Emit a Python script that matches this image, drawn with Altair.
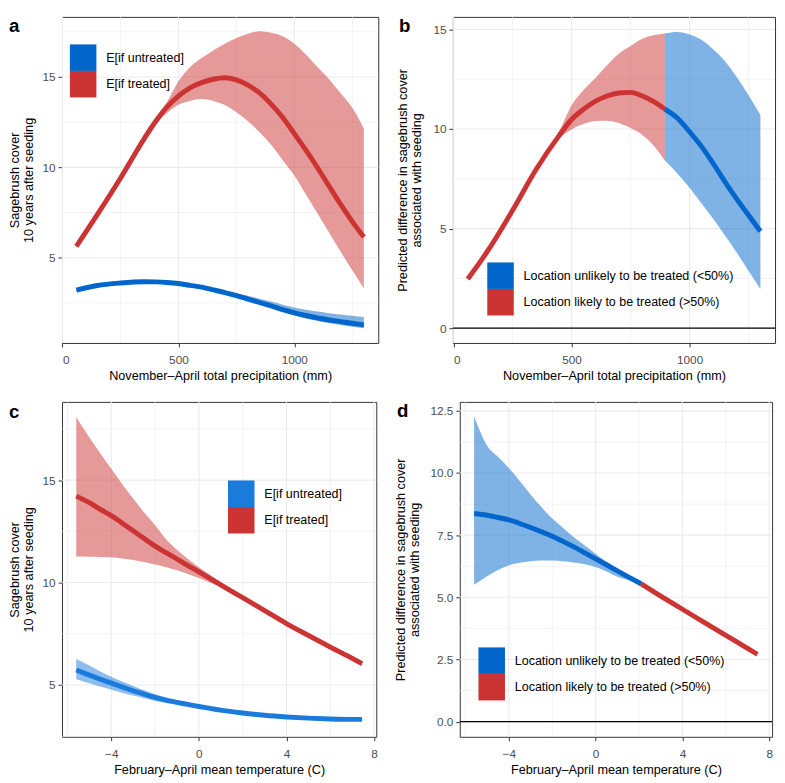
import altair as alt
import pandas as pd

FONT = "Liberation Sans"
RED = "#CC3333"
BLUE = "#0066CC"
BLUE_C = "#1B7BDD"
GRID = "#EBEBEB"

LAB_AC = ["E[if untreated]", "E[if treated]"]
LAB_BD = ["Location unlikely to be treated (<50%)", "Location likely to be treated (>50%)"]

# ---------------- panel a : precipitation, expected cover ----------------
A_X = [60, 150, 250, 350, 400, 450, 500, 550, 600, 650, 700, 750, 800, 850, 900,
       950, 1000, 1050, 1100, 1150, 1200, 1250, 1300]
A_TREAT = [5.63, 7.38, 9.40, 11.54, 12.51, 13.33, 13.94, 14.40, 14.69, 14.88, 14.96, 14.84,
           14.55, 14.12, 13.50, 12.76, 11.87, 10.95, 9.98, 8.96, 7.95, 7.00, 6.14]
A_TREAT_LO = [5.53, 7.28, 9.30, 11.44, 12.35, 13.00, 13.47, 13.68, 13.78, 13.68, 13.45, 13.05,
              12.55, 11.95, 11.25, 10.40, 9.55, 8.50, 7.45, 6.40, 5.33, 4.30, 3.30]
A_TREAT_HI = [5.75, 7.48, 9.50, 11.65, 12.65, 13.60, 14.76, 15.54, 16.05, 16.47, 16.84, 17.16,
              17.40, 17.54, 17.45, 17.26, 16.85, 16.25, 15.55, 14.88, 14.10, 13.30, 12.15]
A_UNTR = [3.20, 3.46, 3.60, 3.67, 3.66, 3.63, 3.57, 3.47, 3.37, 3.22, 3.07, 2.90, 2.71, 2.52,
          2.33, 2.13, 1.95, 1.80, 1.67, 1.55, 1.46, 1.37, 1.28]
A_UNTR_LO = [3.14, 3.40, 3.54, 3.61, 3.60, 3.57, 3.51, 3.41, 3.30, 3.15, 2.99, 2.81, 2.61, 2.41,
             2.21, 2.00, 1.80, 1.64, 1.50, 1.38, 1.28, 1.18, 1.10]
A_UNTR_HI = [3.26, 3.52, 3.66, 3.73, 3.72, 3.69, 3.63, 3.54, 3.45, 3.32, 3.19, 3.05, 2.89, 2.73,
             2.57, 2.40, 2.24, 2.12, 2.02, 1.93, 1.86, 1.79, 1.72]

# ---------------- panel b : precipitation, difference ----------------
B_X = [60, 150, 250, 350, 450, 500, 550, 600, 650, 700, 750, 800, 850, 895, 950, 1000,
       1050, 1100, 1150, 1200, 1250, 1300]
B_Y = [2.47, 3.98, 5.92, 7.98, 9.72, 10.48, 10.99, 11.39, 11.66, 11.81, 11.84, 11.66, 11.36,
       11.00, 10.53, 9.86, 9.13, 8.27, 7.35, 6.48, 5.67, 4.87]
B_LO = [2.39, 3.90, 5.82, 7.86, 9.55, 9.98, 10.25, 10.40, 10.42, 10.30, 10.05, 9.70, 9.13,
        8.42, 7.74, 7.05, 6.27, 5.49, 4.65, 3.79, 2.87, 1.97]
B_HI = [2.55, 4.08, 6.02, 8.10, 9.95, 11.20, 11.95, 12.55, 13.20, 13.78, 14.17, 14.53, 14.72,
        14.80, 14.87, 14.75, 14.48, 14.00, 13.40, 12.60, 11.70, 10.70]
B_SPLIT = 895

# ---------------- panel c : temperature, expected cover ----------------
C_X = [-5.6, -5, -4.5, -4, -3.5, -3, -2.5, -2, -1.5, -1, -0.5, 0, 0.5, 1, 1.5, 2, 3, 4, 5, 6, 7, 7.45]
C_TREAT = [14.22, 13.90, 13.57, 13.27, 12.90, 12.53, 12.15, 11.78, 11.46, 11.15, 10.83, 10.52,
           10.20, 9.89, 9.57, 9.26, 8.63, 8.00, 7.42, 6.85, 6.30, 6.04]
C_TREAT_LO = [11.27, 11.26, 11.25, 11.23, 11.18, 11.10, 11.00, 10.88, 10.75, 10.60, 10.42, 10.22,
              10.00, 9.77, 9.48, 9.17, 8.55, 7.92, 7.33, 6.75, 6.18, 5.91]
C_TREAT_HI = [18.07, 17.08, 16.30, 15.55, 14.80, 14.10, 13.42, 12.80, 12.12, 11.60, 11.15, 10.75,
              10.38, 10.02, 9.68, 9.36, 8.72, 8.09, 7.52, 6.96, 6.42, 6.17]
C_UNTR = [5.73, 5.48, 5.28, 5.09, 4.90, 4.72, 4.55, 4.39, 4.26, 4.15, 4.05, 3.95, 3.86, 3.77,
          3.70, 3.63, 3.52, 3.44, 3.38, 3.34, 3.32, 3.32]
C_UNTR_LO = [5.28, 5.08, 4.92, 4.77, 4.62, 4.48, 4.35, 4.22, 4.12, 4.04, 3.97, 3.89, 3.81, 3.73,
             3.66, 3.59, 3.48, 3.39, 3.33, 3.29, 3.27, 3.27]
C_UNTR_HI = [6.27, 5.95, 5.66, 5.40, 5.17, 4.95, 4.74, 4.55, 4.39, 4.25, 4.12, 4.01, 3.91, 3.82,
             3.75, 3.68, 3.57, 3.49, 3.43, 3.39, 3.37, 3.37]

# ---------------- panel d : temperature, difference ----------------
D_X = [-5.6, -5, -4.5, -4, -3.5, -3, -2.5, -2, -1.5, -1, -0.5, 0, 0.5, 1, 1.5, 2.1, 3, 4, 5, 6, 7, 7.45]
D_Y = [8.37, 8.30, 8.21, 8.11, 7.97, 7.81, 7.64, 7.46, 7.25, 7.03, 6.79, 6.55, 6.31, 6.06, 5.82,
       5.54, 5.05, 4.52, 3.99, 3.47, 2.95, 2.71]
D_LO = [5.51, 5.85, 6.10, 6.29, 6.39, 6.45, 6.48, 6.48, 6.45, 6.40, 6.33, 6.22, 6.04, 5.83, 5.70,
        5.50, 5.00, 4.47, 3.93, 3.40, 2.87, 2.62]
D_HI = [12.28, 11.10, 10.65, 10.20, 9.68, 9.14, 8.63, 8.17, 7.79, 7.42, 7.08, 6.75, 6.41, 6.09,
        5.85, 5.58, 5.10, 4.57, 4.05, 3.54, 3.03, 2.80]
D_SPLIT = 2.1

# axis breaks
PRECIP_MAJOR = [0, 500, 1000]
PRECIP_MINOR = [250, 750, 1250]
TEMP_MAJOR = [-4, 0, 4, 8]
TEMP_MINOR = [-6, -2, 2, 6]
COVER_MAJOR = [5, 10, 15]
COVER_MINOR = [2.5, 7.5, 12.5, 17.5]
B_Y_MAJOR = [0, 5, 10, 15]
B_Y_MINOR = [2.5, 7.5, 12.5]
D_Y_MAJOR = [0, 2.5, 5, 7.5, 10, 12.5]
D_Y_MINOR = [1.25, 3.75, 6.25, 8.75, 11.25]
ZERO = [0]


def two_series(x, labs, y0, lo0, hi0, y1, lo1, hi1):
    rows = []
    for xi, a, b, c in zip(x, y0, lo0, hi0):
        rows.append({"x": xi, "y": a, "lo": b, "hi": c, "g": labs[0]})
    for xi, a, b, c in zip(x, y1, lo1, hi1):
        rows.append({"x": xi, "y": a, "lo": b, "hi": c, "g": labs[1]})
    return pd.DataFrame(rows)


def split_series(x, y, lo, hi, split, lab_before, lab_after):
    rows = []
    for xi, a, b, c in zip(x, y, lo, hi):
        if xi <= split:
            rows.append({"x": xi, "y": a, "lo": b, "hi": c, "g": lab_before})
        if xi >= split:
            rows.append({"x": xi, "y": a, "lo": b, "hi": c, "g": lab_after})
    return pd.DataFrame(rows)


def panel(df, x_dom, y_dom, x_major, x_minor, y_major, y_minor, x_title, y_title,
          y_format, y_extent, y_tpad, dom, rng, leg_x, leg_y, tag, tag_x, tag_y,
          w, h, zero=False):
    xs = alt.Scale(domain=x_dom, nice=False, zero=False)
    ys = alt.Scale(domain=y_dom, nice=False, zero=False)
    cs = alt.Scale(domain=dom, range=rng)
    xaxis = alt.Axis(values=x_major, title=x_title, format="d", grid=False,
                     tickSize=4, labelPadding=8, titlePadding=4)
    yaxis = alt.Axis(values=y_major, title=y_title, format=y_format, grid=False,
                     tickSize=4, labelPadding=3, titlePadding=y_tpad,
                     minExtent=y_extent, maxExtent=y_extent, titleLineHeight=14)
    legend = alt.Legend(
        orient="none", legendX=leg_x, legendY=leg_y, title=None, direction="vertical",
        symbolType="square", symbolSize=729, symbolStrokeWidth=0, symbolOpacity=1,
        labelFontSize=12.7, labelFont=FONT, labelColor="black", labelOffset=10,
        labelLimit=400, rowPadding=0, padding=0)

    def X(f):
        return alt.X(f, type="quantitative", scale=xs, axis=xaxis)

    def Y(f):
        return alt.Y(f, type="quantitative", scale=ys, axis=yaxis, stack=None)

    def C():
        return alt.Color("g:N", scale=cs, legend=legend)

    base = alt.Chart(df)
    layers = []
    # invisible layer first: carries axes and legend definitions
    layers.append(base.mark_square(opacity=0).encode(x=X("x"), y=Y("y"), color=C()))
    for vals, sw in ((x_minor, 0.6), (x_major, 1.1)):
        layers.append(alt.Chart(pd.DataFrame({"v": vals})).mark_rule(color=GRID, strokeWidth=sw)
                      .encode(x=X("v")))
    for vals, sw in ((y_minor, 0.6), (y_major, 1.1)):
        layers.append(alt.Chart(pd.DataFrame({"v": vals})).mark_rule(color=GRID, strokeWidth=sw)
                      .encode(y=Y("v")))
    if zero:
        layers.append(alt.Chart(pd.DataFrame({"v": ZERO})).mark_rule(color="black", strokeWidth=1.3)
                      .encode(y=Y("v")))
    layers.append(base.mark_area(opacity=0.5, interpolate="monotone").encode(
        x=X("x"), y=Y("lo"), y2="hi:Q", color=C()))
    layers.append(base.mark_line(strokeWidth=5, interpolate="monotone").encode(
        x=X("x"), y=Y("y"), color=C()))
    layers.append(alt.Chart(pd.DataFrame({"t": [tag]})).mark_text(
        align="left", baseline="top", fontSize=19, fontWeight="bold",
        font=FONT, color="black").encode(
        x=alt.value(tag_x), y=alt.value(tag_y), text="t:N"))
    return alt.layer(*layers).properties(width=w, height=h)


PRECIP_TITLE = "November\u2013April total precipitation (mm)"
TEMP_TITLE = "February\u2013April mean temperature (C)"
COVER_TITLE = ["Sagebrush cover", "10 years after seeding"]
DIFF_TITLE = ["Predicted difference in sagebrush cover", "associated with seeding"]

df_a = two_series(A_X, LAB_AC, A_UNTR, A_UNTR_LO, A_UNTR_HI, A_TREAT, A_TREAT_LO, A_TREAT_HI)
df_b = split_series(B_X, B_Y, B_LO, B_HI, B_SPLIT, LAB_BD[1], LAB_BD[0])
df_c = two_series(C_X, LAB_AC, C_UNTR, C_UNTR_LO, C_UNTR_HI, C_TREAT, C_TREAT_LO, C_TREAT_HI)
df_d = split_series(D_X, D_Y, D_LO, D_HI, D_SPLIT, LAB_BD[0], LAB_BD[1])

pa = panel(df_a, [-2, 1362], [0.28, 18.33], PRECIP_MAJOR, PRECIP_MINOR, COVER_MAJOR, COVER_MINOR,
           PRECIP_TITLE, COVER_TITLE, "d", 22, 5, LAB_AC, [BLUE, RED], 8, 28, "a", -54, 0, 322, 332)
pb = panel(df_b, [-3, 1362], [-0.74, 15.63], PRECIP_MAJOR, PRECIP_MINOR, B_Y_MAJOR, B_Y_MINOR,
           PRECIP_TITLE, DIFF_TITLE, "d", 22, 8, LAB_BD, [BLUE, RED], 35, 250, "b", -55, 0, 328, 332,
           zero=True)
pc = panel(df_c, [-6.25, 8.1], [2.47, 18.82], TEMP_MAJOR, TEMP_MINOR, COVER_MAJOR, COVER_MINOR,
           TEMP_TITLE, COVER_TITLE, "d", 22, 5, LAB_AC, [BLUE_C, RED], 169, 80, "c", -54, 1, 320, 341)
pd_ = panel(df_d, [-6.26, 8.13], [-0.61, 12.86], TEMP_MAJOR, TEMP_MINOR, D_Y_MAJOR, D_Y_MINOR,
            TEMP_TITLE, DIFF_TITLE, ".1f", 32, 7, LAB_BD, [BLUE, RED], 19, 250, "d", -64, 0, 318, 341,
            zero=True)

row1 = alt.hconcat(pa, pb, spacing=16).resolve_scale(color="independent").resolve_legend(color="independent")
row2 = alt.hconcat(pc, pd_, spacing=16).resolve_scale(color="independent").resolve_legend(color="independent")
chart = alt.vconcat(row1, row2, spacing=17).resolve_scale(color="independent").resolve_legend(
    color="independent"
).properties(padding=0, background="white").configure_view(
    stroke="#333333", strokeWidth=1
).configure_axis(
    labelFont=FONT, titleFont=FONT, labelFontSize=12, titleFontSize=12.9,
    labelColor="#4D4D4D", titleColor="black", titleFontWeight="normal",
    tickColor="#333333", tickWidth=1, domain=False
)

chart.save("out.html", embed_options={"renderer": "svg", "actions": False})
